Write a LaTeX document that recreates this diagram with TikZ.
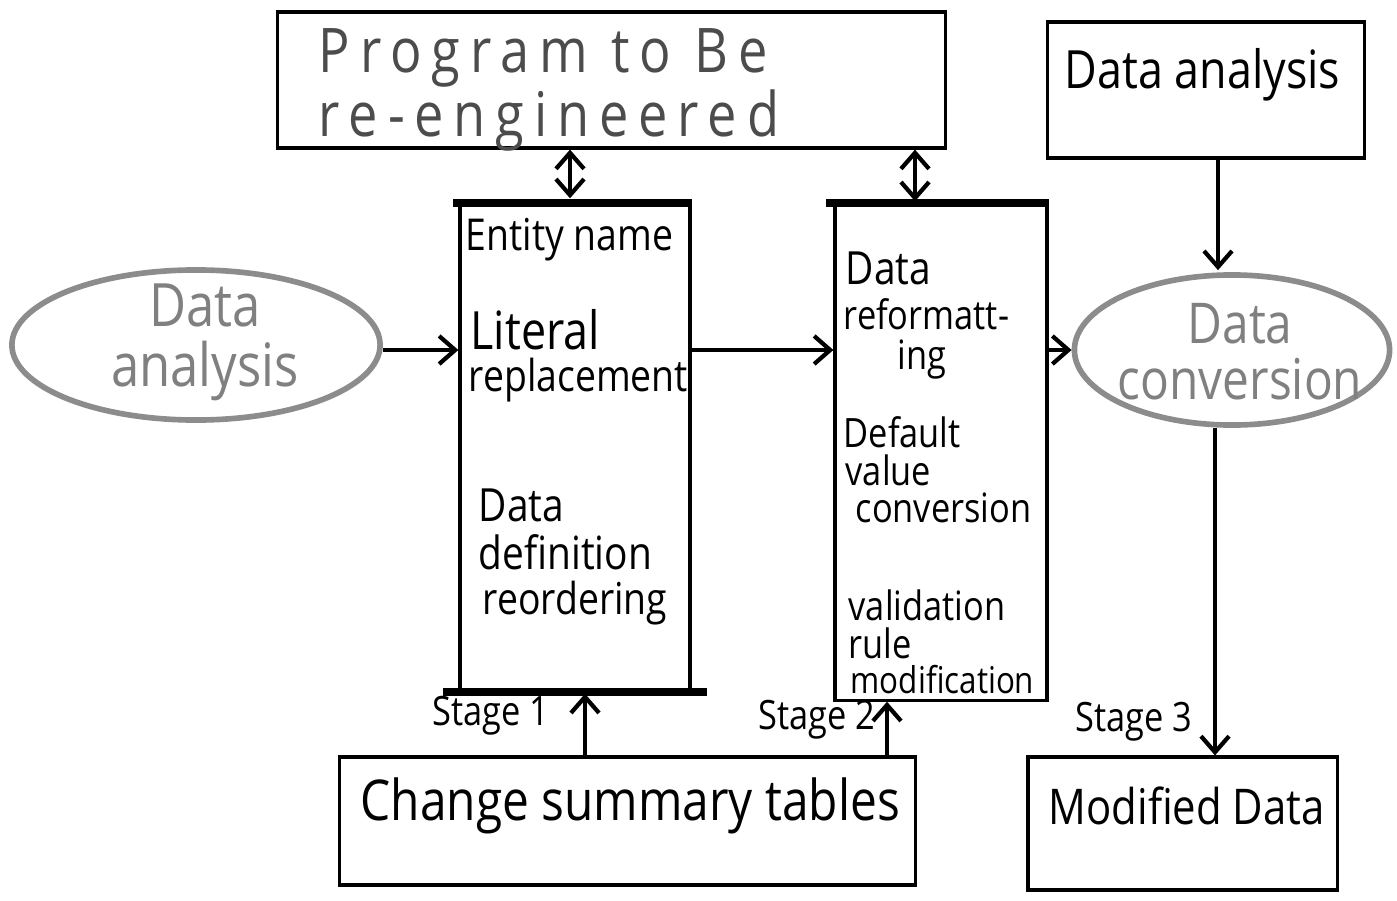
\documentclass[tikz,border=0pt]{standalone}
\usepackage{fontspec}
\setmainfont{Open Sans}[FakeStretch=0.85]
\newfontfamily\spacedfont{Open Sans}[FakeStretch=0.85,LetterSpace=16]
\usetikzlibrary{arrows.meta,shapes.geometric}
\newcommand{\fsz}[1]{\fontsize{#1}{#1}\selectfont}
\tikzset{
  boxnode/.style={draw=black, line width=0.9pt, rectangle, inner sep=0pt},
  ovalnode/.style={draw=black!45, line width=1.6pt, ellipse, inner sep=0pt},
  txt/.style={inner sep=0pt, anchor=west, text=black},
  graytxt/.style={inner sep=0pt, text=black!50, align=center},
  toptxtstyle/.style={inner sep=0pt, anchor=west, text=black!70, font=\spacedfont\fsz{17.5}},
  arr/.style={line width=1.2pt, -{Straight Barb[length=1.6mm,width=2.8mm]}},
  darr/.style={line width=1.2pt, {Straight Barb[length=1.6mm,width=2.8mm]}-{Straight Barb[length=1.6mm,width=2.8mm]}},
  thick edge/.style={line width=2.2pt}
}
\begin{document}
\begin{tikzpicture}[x=0.01cm,y=-0.01cm]
\useasboundingbox (0,0) rectangle (1397,900);
\fill[white] (0,0) rectangle (1397,900);
% boxes
\node[boxnode, minimum width=6.67cm, minimum height=1.36cm] (top) at (611.5,80) {};
\node[toptxtstyle] (toptxta) at (318,58) {Program to Be};
\node[toptxtstyle] (toptxtb) at (318,121) {re-engineered};
\node[boxnode, minimum width=3.17cm, minimum height=1.36cm] (dabox) at (1206,90) {};
\node[txt, font=\fsz{15}] (datxt) at (1064,75) {Data analysis};
\node[boxnode, minimum width=2.30cm, minimum height=4.85cm] (s1) at (575,447.5) {};
\node[boxnode, minimum width=2.12cm, minimum height=4.95cm] (s2) at (941,452.5) {};
\node[boxnode, minimum width=5.75cm, minimum height=1.28cm] (chg) at (627.5,821) {};
\node[txt, font=\fsz{16}] (chgtxt) at (360,806) {Change summary tables};
\node[boxnode, minimum width=3.09cm, minimum height=1.33cm] (mod) at (1182.5,823.5) {};
\node[txt, font=\fsz{14}] (modtxt) at (1048,806) {Modified Data};
% thick edges of stage boxes
\draw[thick edge] ([xshift=-0.05cm]s1.north west) -- (s1.north east);
\draw[thick edge] ([xshift=-0.15cm]s1.south west) -- ([xshift=0.15cm]s1.south east);
\draw[thick edge] ([xshift=-0.07cm]s2.north west) -- (s2.north east);
% ovals
\node[ovalnode, minimum width=3.68cm, minimum height=1.5cm] (lov) at (196,345) {};
\node[graytxt, font=\fsz{17}] (lovtxt) at (205,342) {Data\\analysis};
\node[ovalnode, minimum width=3.15cm, minimum height=1.5cm] (rov) at (1232,350) {};
\node[graytxt, font=\fsz{16}] (rovtxt) at (1240,352) {Data\\conversion};
% stage 1 text
\node[txt, font=\fsz{12.5}] (e1) at (465,240) {Entity name};
\node[txt, font=\fsz{15}] (e2) at (470,330) {Literal};
\node[txt, font=\fsz{12.5}] (e3) at (468,380) {replacement};
\node[txt, font=\fsz{13}] (e4) at (478,505) {Data};
\node[txt, font=\fsz{13}] (e5) at (478,552) {definition};
\node[txt, font=\fsz{12.5}] (e6) at (482,603) {reordering};
% stage 2 text
\node[txt, font=\fsz{13}] (f1) at (845,268) {Data};
\node[txt, font=\fsz{11.5}] (f2) at (843,314) {reformatt-};
\node[txt, font=\fsz{11.5}] (f3) at (897,360) {ing};
\node[txt, font=\fsz{11.5}] (f4) at (843,432) {Default};
\node[txt, font=\fsz{11.5}] (f5) at (845,470) {value};
\node[txt, font=\fsz{11.5}] (f6) at (855,508) {conversion};
\node[txt, font=\fsz{11.5}] (f7) at (848,605) {validation};
\node[txt, font=\fsz{11.5}] (f8) at (848,643) {rule};
\node[txt, font=\fsz{10.5}] (f9) at (850,680) {modification};
% stage labels
\node[txt, font=\fsz{11.5}] (st1) at (432,716) {Stage 1};
\node[txt, font=\fsz{11.5}] (st2) at (758,720) {Stage 2};
\node[txt, font=\fsz{11.5}] (st3) at (1075,722) {Stage 3};
% helper coordinates
\coordinate (rowy) at (0,350);
\coordinate (c1) at (570,0);
\coordinate (c2) at (915,0);
\coordinate (c3) at (1218,0);
\coordinate (c4) at (1215,0);
\coordinate (c5) at (585,0);
\coordinate (c6) at (887,0);
% connectors
\draw[arr] (lov.east |- rowy) -- (s1.west |- rowy);
\draw[arr] (s1.east |- rowy) -- (s2.west |- rowy);
\draw[arr] (s2.east |- rowy) -- (rov.west |- rowy);
\draw[arr] (dabox.south -| c3) -- ([yshift=0.02cm]rov.north -| c3);
\draw[arr] (rov.south -| c4) -- (mod.north -| c4);
\draw[darr] (top.south -| c1) -- ([yshift=0.05cm]s1.north -| c1);
\draw[darr] (top.south -| c2) -- ([yshift=0.02cm]s2.north -| c2);
\draw[arr] (chg.north -| c5) -- ([yshift=-0.02cm]s1.south -| c5);
\draw[arr] (chg.north -| c6) -- (s2.south -| c6);
\end{tikzpicture}
\end{document}
